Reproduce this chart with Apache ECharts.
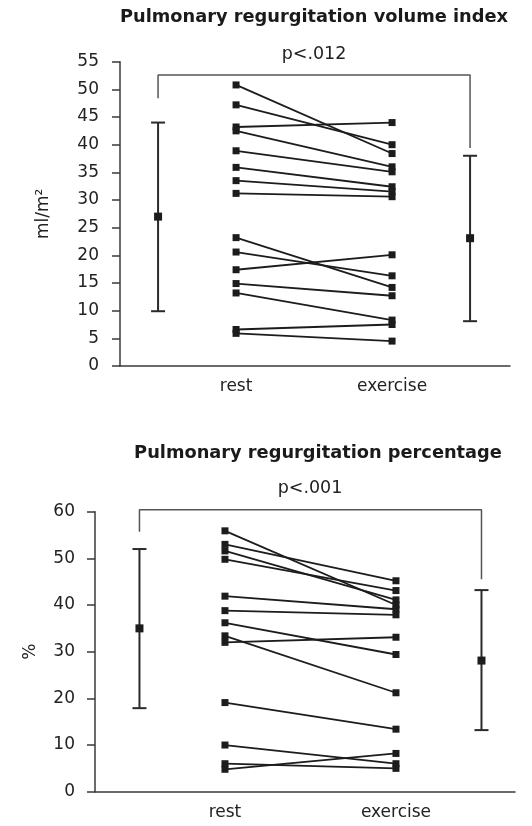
<!DOCTYPE html>
<html>
<head>
<meta charset="utf-8">
<script src="https://cdn.jsdelivr.net/npm/echarts@6/dist/echarts.min.js"></script>
<style>
  html, body { margin: 0; padding: 0; background: #fff; }
  #chart { width: 532px; height: 826px; }
</style>
</head>
<body>
<div id="chart"></div>
<script>
// Category labels on the x axis
const phases = ['rest', 'exercise'];

// Regurgitation volume index (ml/m²), one value per patient, paired by index
const volRest     = [50.8, 47.2, 43.2, 42.5, 38.9, 35.9, 33.5, 31.2, 23.2, 20.6, 17.4, 14.9, 13.2, 6.6, 5.9];
const volExercise = [38.4, 40.0, 44.0, 36.0, 35.1, 32.4, 31.5, 30.6, 14.2, 16.3, 20.1, 12.7, 8.3, 7.5, 4.5];
// Group summaries: [mean, low, high]
const volRestSummary     = [27.0, 9.9, 44.0];
const volExerciseSummary = [23.1, 8.1, 38.0];
const volTicks = { min: 0, max: 55, step: 5 };
const volP = 'p<.012';

// Regurgitation percentage (%), paired by index
const pctRest     = [55.9, 53.0, 51.6, 49.8, 41.9, 38.8, 36.2, 33.4, 32.0, 19.1, 10.0, 6.0, 4.8];
const pctExercise = [40.0, 45.2, 41.1, 43.1, 39.1, 37.9, 29.4, 21.2, 33.1, 13.4, 6.0, 5.0, 8.2];
const pctRestSummary     = [35.0, 17.9, 52.0];
const pctExerciseSummary = [28.1, 13.2, 43.2];
const pctTicks = { min: 0, max: 60, step: 10 };
const pctP = 'p<.001';

// Bracket heights above the groups: [left leg end, bar level, right leg end]
const volBracket = [48.4, 52.6, 39.4];
const pctBracket = [55.7, 60.4, 45.5];

const FONT = 'DejaVu Sans';
const INK = '#1c1c1c';
const AXIS = '#3a3a3a';

// x positions of the groups along the value x axis
const X_REST = 1, X_EX = 2, X_SUM_L = 0.5, X_SUM_R = 2.5;

const chart = echarts.init(document.getElementById('chart'), null, { renderer: 'canvas' });

function yAxisFor(gridIndex, ticks, name, gap, margin) {
  return {
    type: 'value', gridIndex,
    min: ticks.min, max: ticks.max, interval: ticks.step,
    name, nameLocation: 'middle', nameGap: gap,
    nameTextStyle: { fontFamily: FONT, fontSize: 17, color: '#222' },
    axisLine: { show: true, lineStyle: { color: AXIS, width: 1.5 } },
    axisTick: { show: true, inside: false, length: 8, lineStyle: { color: AXIS, width: 1.5 } },
    axisLabel: { fontFamily: FONT, fontSize: 17, color: '#222', margin },
    splitLine: { show: false }
  };
}

function xAxisFor(gridIndex, min, max) {
  return {
    type: 'value', gridIndex, min, max,
    axisLine: { show: true, onZero: false, lineStyle: { color: AXIS, width: 1.5 } },
    axisTick: { show: false },
    splitLine: { show: false },
    axisLabel: {
      customValues: [X_REST, X_EX],
      formatter: v => (Math.abs(v - X_REST) < 1e-6 ? phases[0] : phases[1]),
      fontFamily: FONT, fontSize: 17, color: '#222', margin: 12
    }
  };
}

// Mean with whiskers drawn in data space
function errorBarSeries(axisIndex, x, summary) {
  return {
    type: 'custom', xAxisIndex: axisIndex, yAxisIndex: axisIndex, silent: true,
    clip: false,
    data: [[x, summary[0], summary[1], summary[2]]],
    renderItem(params, api) {
      const px = api.value(0);
      const pm = api.coord([px, api.value(1)]);
      const plo = api.coord([px, api.value(2)]);
      const phi = api.coord([px, api.value(3)]);
      const cap = 7, sq = 8;
      const ls = { stroke: '#2a2a2a', lineWidth: 2 };
      return {
        type: 'group',
        children: [
          { type: 'line', shape: { x1: pm[0], y1: plo[1], x2: pm[0], y2: phi[1] }, style: ls },
          { type: 'line', shape: { x1: pm[0] - cap, y1: phi[1], x2: pm[0] + cap, y2: phi[1] }, style: ls },
          { type: 'line', shape: { x1: pm[0] - cap, y1: plo[1], x2: pm[0] + cap, y2: plo[1] }, style: ls },
          { type: 'rect', shape: { x: pm[0] - sq / 2, y: pm[1] - sq / 2, width: sq, height: sq }, style: { fill: INK } }
        ]
      };
    }
  };
}

function bracketSeries(axisIndex, b) {
  return {
    type: 'line', xAxisIndex: axisIndex, yAxisIndex: axisIndex, silent: true,
    symbol: 'none', animation: false, clip: false,
    lineStyle: { color: '#555', width: 1.5 },
    data: [[X_SUM_L, b[0]], [X_SUM_L, b[1]], [X_SUM_R, b[1]], [X_SUM_R, b[2]]]
  };
}

function pairSeries(axisIndex, rest, ex) {
  return rest.map((r, i) => ({
    type: 'line', xAxisIndex: axisIndex, yAxisIndex: axisIndex, silent: true,
    symbol: 'rect', symbolSize: 7, animation: false, clip: false,
    itemStyle: { color: INK },
    lineStyle: { color: INK, width: 1.8 },
    data: [[X_REST, r], [X_EX, ex[i]]]
  }));
}

const option = {
  backgroundColor: '#fff',
  animation: false,
  grid: [
    { left: 120, top: 61.7, width: 390, height: 304.3 },
    { left: 95, top: 511.7, width: 420, height: 280 }
  ],
  xAxis: [xAxisFor(0, 0.256, 2.756), xAxisFor(1, 0.24, 2.696)],
  yAxis: [
    yAxisFor(0, volTicks, 'ml/m²', 68, 21),
    yAxisFor(1, pctTicks, '%', 56, 20)
  ],
  graphic: [
    { type: 'text', x: 314, y: 17, style: { text: 'Pulmonary regurgitation volume index', fontFamily: FONT, fontSize: 17.8, fontWeight: 'bold', fill: '#1a1a1a', align: 'center', verticalAlign: 'middle' } },
    { type: 'text', x: 314, y: 54, style: { text: volP, fontFamily: FONT, fontSize: 17.5, fill: '#222', align: 'center', verticalAlign: 'middle' } },
    { type: 'text', x: 318, y: 453, style: { text: 'Pulmonary regurgitation percentage', fontFamily: FONT, fontSize: 17.8, fontWeight: 'bold', fill: '#1a1a1a', align: 'center', verticalAlign: 'middle' } },
    { type: 'text', x: 310, y: 488, style: { text: pctP, fontFamily: FONT, fontSize: 17.5, fill: '#222', align: 'center', verticalAlign: 'middle' } }
  ],
  series: [
    bracketSeries(0, volBracket),
    errorBarSeries(0, X_SUM_L, volRestSummary),
    errorBarSeries(0, X_SUM_R, volExerciseSummary),
    ...pairSeries(0, volRest, volExercise),
    bracketSeries(1, pctBracket),
    errorBarSeries(1, X_SUM_L, pctRestSummary),
    errorBarSeries(1, X_SUM_R, pctExerciseSummary),
    ...pairSeries(1, pctRest, pctExercise)
  ]
};

chart.setOption(option);
</script>
</body>
</html>
